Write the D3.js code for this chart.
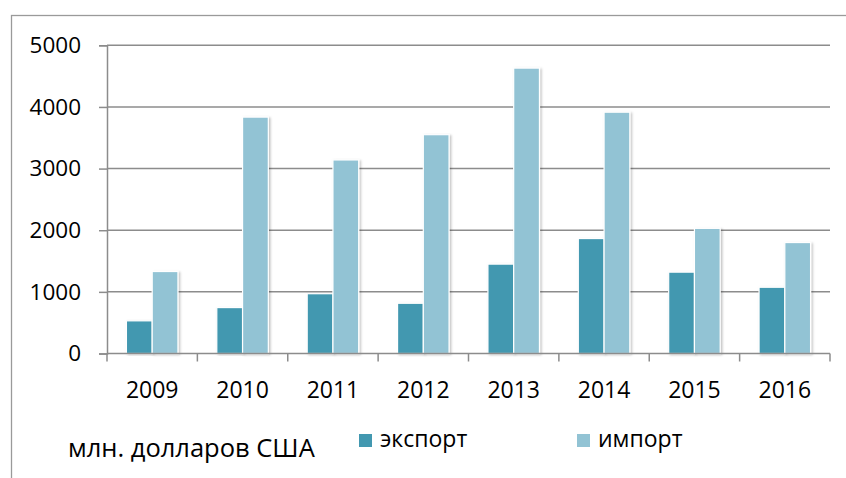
<!DOCTYPE html>
<html>
<head>
<meta charset="utf-8">
<script src="https://cdn.jsdelivr.net/npm/d3@7"></script>
<style>
  body { margin: 0; background: #fff; }
  svg { display: block; font-family: "Open Sans", sans-serif; }
</style>
</head>
<body>
<svg id="chart" width="846" height="478"></svg>
<script>
var YEARS = ["2009", "2010", "2011", "2012", "2013", "2014", "2015", "2016"];
var EXPORT = [530, 745, 970, 815, 1450, 1865, 1320, 1075];
var IMPORT = [1330, 3835, 3140, 3550, 4630, 3915, 2030, 1800];
var Y_TICKS = [0, 1000, 2000, 3000, 4000, 5000];
var SERIES = ["экспорт", "импорт"];
var UNIT_LABEL = "млн. долларов США";

var COLORS = { "экспорт": "#4298b0", "импорт": "#92c3d4" };
var GRID_COLOR = "#8c8c8c";

var svg = d3.select("#chart");

// shadow for bars
var defs = svg.append("defs");
var f = defs.append("filter").attr("id", "shadow")
  .attr("x", "-20%").attr("y", "-5%").attr("width", "140%").attr("height", "110%");
f.append("feDropShadow").attr("dx", 1.5).attr("dy", 1).attr("stdDeviation", 1.2)
  .attr("flood-color", "#000").attr("flood-opacity", 0.25);

// outer chart border (cut off at right/bottom)
svg.append("rect")
  .attr("x", 11.5).attr("y", 15.5)
  .attr("width", 860).attr("height", 500)
  .attr("fill", "none").attr("stroke", "#9a9a9a").attr("stroke-width", 1.3);

var plotL = 107, plotR = 830, plotT = 45.3, plotB = 353.5;

var x = d3.scaleBand().domain(YEARS).range([plotL, plotR])
  .paddingInner(0.43).paddingOuter(0.215);
var xs = d3.scaleBand().domain(SERIES).range([0, x.bandwidth()]);
var y = d3.scaleLinear().domain([0, 5000]).range([plotB, plotT]);

// gridlines
svg.append("g").selectAll("line").data(Y_TICKS.filter(function(d) { return d > 0; }))
  .enter().append("line")
  .attr("x1", plotL).attr("x2", plotR)
  .attr("y1", function(d) { return y(d); }).attr("y2", function(d) { return y(d); })
  .attr("stroke", GRID_COLOR).attr("stroke-width", 1.5);

// y axis
var yAxis = svg.append("g").attr("transform", "translate(" + plotL + ",0)")
  .call(d3.axisLeft(y).tickValues(Y_TICKS).tickFormat(d3.format("d"))
    .tickSize(8).tickPadding(18));
yAxis.select(".domain").attr("stroke", GRID_COLOR).attr("stroke-width", 1.5);
yAxis.selectAll(".tick line").attr("stroke", GRID_COLOR).attr("stroke-width", 1.5);
yAxis.selectAll("text").attr("font-size", 22.5).attr("fill", "#000")
  .attr("font-family", "Open Sans, sans-serif");

// bars
var groups = svg.append("g").selectAll("g").data(YEARS).enter().append("g")
  .attr("transform", function(d) { return "translate(" + x(d) + ",0)"; });
groups.selectAll("rect")
  .data(function(d, i) {
    return [{ s: "экспорт", v: EXPORT[i] }, { s: "импорт", v: IMPORT[i] }];
  })
  .enter().append("rect")
  .attr("x", function(d) { return xs(d.s); })
  .attr("width", xs.bandwidth())
  .attr("y", function(d) { return y(d.v); })
  .attr("height", function(d) { return plotB - y(d.v); })
  .attr("fill", function(d) { return COLORS[d.s]; })
  .attr("stroke", "#fff").attr("stroke-width", 1.2)
  .attr("filter", "url(#shadow)");

// x axis with ticks at category boundaries
var xb = d3.scaleLinear().domain([0, YEARS.length]).range([plotL, plotR]);
svg.append("line").attr("x1", plotL).attr("x2", plotR)
  .attr("y1", plotB).attr("y2", plotB)
  .attr("stroke", GRID_COLOR).attr("stroke-width", 1.5);
svg.append("g").selectAll("line").data(d3.range(YEARS.length + 1)).enter().append("line")
  .attr("x1", function(d) { return xb(d); }).attr("x2", function(d) { return xb(d); })
  .attr("y1", plotB).attr("y2", plotB + 8)
  .attr("stroke", GRID_COLOR).attr("stroke-width", 1.5);
svg.append("g").selectAll("text").data(YEARS).enter().append("text")
  .attr("x", function(d) { return x(d) + x.bandwidth() / 2; })
  .attr("y", 397.5)
  .attr("text-anchor", "middle")
  .attr("font-size", 23)
  .text(function(d) { return d; });

// unit label + legend
svg.append("text").attr("x", 68).attr("y", 457).attr("font-size", 25.5).text(UNIT_LABEL);

var legendX = [359, 577];
var leg = svg.append("g").selectAll("g").data(SERIES).enter().append("g")
  .attr("transform", function(d, i) { return "translate(" + legendX[i] + ",434)"; });
leg.append("rect").attr("width", 13).attr("height", 13)
  .attr("fill", function(d) { return COLORS[d]; });
leg.append("text").attr("x", 21).attr("y", 13).attr("font-size", 23)
  .text(function(d) { return d; });
</script>
</body>
</html>
